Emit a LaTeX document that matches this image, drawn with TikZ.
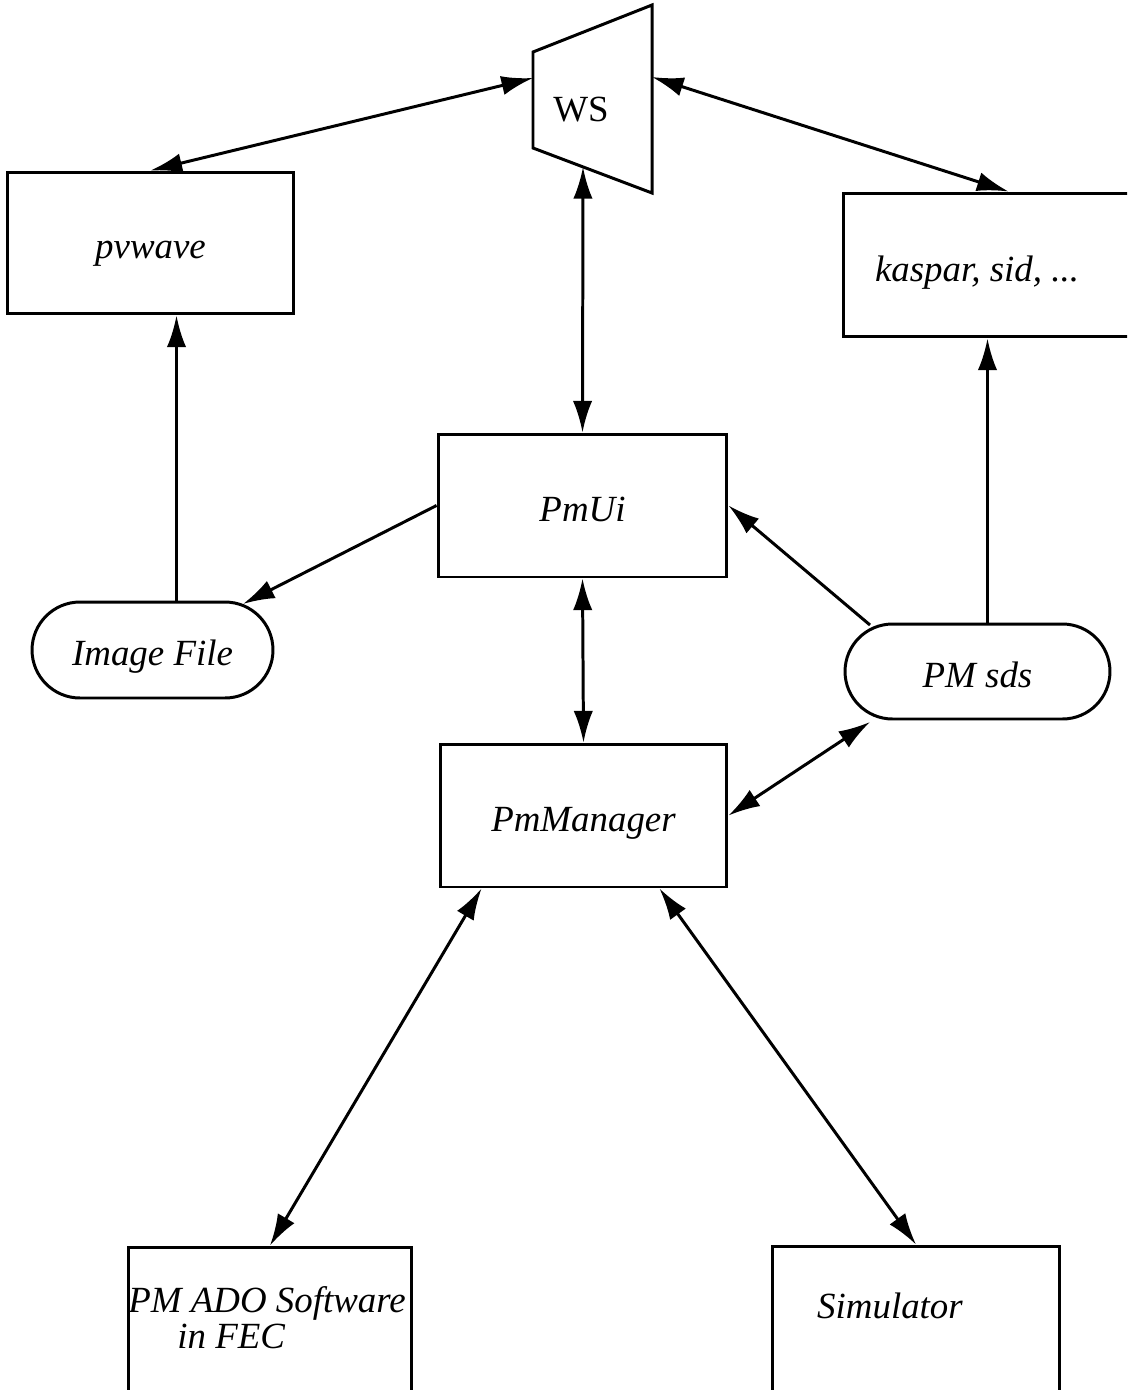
\documentclass[tikz,border=0pt]{standalone}
\usepackage{fontspec}
\setmainfont{Liberation Serif}
\usepackage{tikz}
\usetikzlibrary{calc, arrows.meta, shapes.misc}
\tikzset{>={Latex[length=18pt,width=11pt]}}
\tikzset{box/.style={draw, line width=1.7pt, inner sep=0pt, text height=22pt, text depth=4pt, font=\itshape\fontsize{21}{20.5}\selectfont}}
\tikzset{pill/.style={box, rounded rectangle}}
\tikzset{txt/.style={inner sep=0pt, font=\itshape\fontsize{21}{20.5}\selectfont}}
\tikzset{lnk/.style={line width=1.7pt}}

\begin{document}
\begin{tikzpicture}[x=0.02cm, y=-0.02cm]
\useasboundingbox (0,0) rectangle (1127,1390);
\clip (0,0) rectangle (1127,1390);
% workstation
\coordinate (wsa) at (533,52);
\coordinate (wsb) at (652,5);
\coordinate (wsc) at (652,193);
\coordinate (wsd) at (533,148);
\draw[lnk] (wsa) -- (wsb) -- (wsc) -- (wsd) -- cycle;
\node[inner sep=0pt, anchor=base, font=\fontsize{21}{24}\selectfont] (ws) at (581,121) {WS};
\coordinate (wsw) at (533,78);
\coordinate (wse) at (652,77);
\coordinate (wss) at (583,167);
% boxes
\node[box, minimum width=5.74cm, minimum height=2.84cm] (pvwave) at (150.5,243) {pvwave};
\node[box, minimum width=6.54cm, minimum height=2.88cm] (kaspar) at (1006.5,265) {};
\node[txt, anchor=base] (kaspartxt) at (977,281) {kaspar, sid, ...};
\node[box, minimum width=5.78cm, minimum height=2.86cm] (pmui) at (582.5,505.5) {PmUi};
\node[pill, minimum width=4.82cm, minimum height=1.92cm] (img) at (152.5,650) {Image File};
\node[pill, minimum width=5.30cm, minimum height=1.90cm] (sds) at (977.5,671.5) {PM sds};
\node[box, minimum width=5.74cm, minimum height=2.86cm] (pmm) at (583.5,815.5) {PmManager};
\node[box, minimum width=5.68cm, minimum height=4.06cm] (ado) at (270,1348.5) {};
\node[txt, anchor=base west, align=left] (adotxt) at (128,1348) {PM ADO Software\\\hspace*{0.98cm}in FEC};
\node[box, minimum width=5.76cm, minimum height=4.08cm] (sim) at (916,1348) {};
\node[txt, anchor=base] (simtxt) at (890,1318) {Simulator};
% connectors
\draw[lnk, <->] (wsw) -- (pvwave.north);
\draw[lnk, <->] (wse) -- ($(kaspar.north west)+(167,0)$);
\draw[lnk, <->] (wss) -- (pmui.north);
\coordinate (imgtop) at ($(img.north)+(24,0)$);
\draw[lnk, ->] (imgtop) -- (imgtop |- pvwave.south);
\draw[lnk, ->] (pmui.west) -- (img);
\draw[lnk, ->] ($(sds.center)+(-107.5,-46.5)$) -- (pmui.east);
\coordinate (sdstop) at ($(sds.north)+(10,0)$);
\draw[lnk, ->] (sdstop) -- (sdstop |- kaspar.south);
\draw[lnk, <->] (pmui.south) -- (pmm.north);
\draw[lnk, <->] ($(sds.center)+(-107.5,50.5)$) -- (pmm.east);
\draw[lnk, <->] ($(pmm.south west)+(43,0)$) -- (ado.north);
\draw[lnk, <->] ($(pmm.south east)+(-69,0)$) -- (sim.north);
\end{tikzpicture}
\end{document}
